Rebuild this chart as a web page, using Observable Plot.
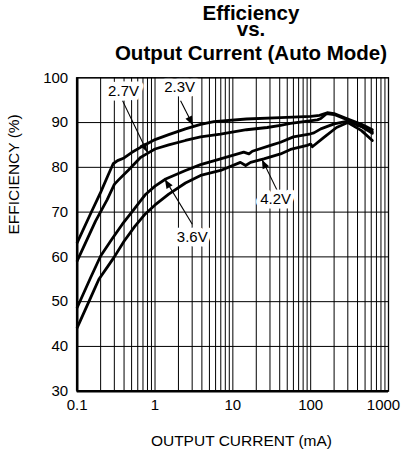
<!DOCTYPE html>
<html>
<head>
<meta charset="utf-8">
<script src="https://cdn.jsdelivr.net/npm/d3@7"></script>
<script src="https://cdn.jsdelivr.net/npm/@observablehq/plot@0.6"></script>
<style>
  html, body { margin: 0; padding: 0; background: #fff; }
  #wrap { width: 402px; height: 455px; position: relative; overflow: hidden; }
  #title { position: relative; width: 402px; height: 64px; font-family: "Liberation Sans", Arial, sans-serif; font-weight: bold; font-size: 20.5px; color: #000; }
  #title div { position: absolute; left: 0; width: 402px; padding-left: 100px; box-sizing: border-box; text-align: center; line-height: 14px; white-space: nowrap; }
</style>
</head>
<body>
<div id="wrap">
  <div id="title">
    <div style="top:6px">Efficiency</div>
    <div style="top:22px">vs.</div>
    <div style="top:46px">Output Current (Auto Mode)</div>
  </div>
  <div id="chart"></div>
</div>
<script>
// ---- data (output current in mA, efficiency in %) ----
const series = ["2.3V", "2.7V", "3.6V", "4.2V"];

const v23 = [[0.1,63.2],[0.15,69.8],[0.2,74.4],[0.25,78.3],[0.29,80.8],[0.33,81.5],[0.4,82.1],[0.5,83.3],[0.72,84.9],[1.0,86.2],[1.5,87.3],[2.46,88.6],[3.85,89.6],[5.7,90.2],[15,90.8],[41,91.1],[100,91.4],[130,91.6],[163,92.2],[200,92.0],[300,90.8],[450,89.6],[620,88.4]];
const v27 = [[0.1,59.1],[0.172,68.0],[0.243,72.8],[0.3,76.2],[0.34,77.2],[0.45,79.3],[0.65,82.2],[0.76,82.9],[1.0,84.1],[1.5,85.0],[2.46,86.0],[3.85,86.8],[6.95,87.4],[15,88.4],[27.6,88.9],[41,89.4],[55,89.8],[122,90.6],[135,90.9],[160,92.0],[200,91.8],[300,90.6],[450,89.2],[620,87.9]];
const v36 = [[0.1,48.7],[0.15,55.5],[0.2,60.2],[0.28,64.0],[0.38,67.3],[0.53,70.5],[0.65,72.5],[0.76,74.0],[1.0,75.8],[1.37,77.4],[2.46,79.3],[3.85,80.6],[6.95,81.9],[13.8,83.4],[16.1,83.0],[17.8,83.6],[30.5,84.9],[41,85.6],[60,86.8],[100,87.5],[110,87.7],[135,88.6],[200,89.7],[300,90.3],[450,89.1],[620,87.6]];
const v42 = [[0.1,44.2],[0.15,51.0],[0.19,55.0],[0.25,58.0],[0.3,60.0],[0.4,63.5],[0.55,66.8],[0.75,69.6],[1.0,71.6],[1.5,74.0],[2.46,76.5],[3.85,78.2],[6.95,79.3],[12.5,81.1],[14.6,80.4],[16.9,81.1],[25,81.9],[41,83.0],[55,84.0],[90,84.9],[100,85.2],[105,84.6],[148,86.7],[215,88.9],[300,90.0],[450,88.2],[620,86.0]];

const xTickValues = [0.1, 1, 10, 100, 1000];
const yTickValues = [30, 40, 50, 60, 70, 80, 90, 100];

// annotation labels and arrows (data coordinates)
const labelText = ["2.7V", "2.3V", "3.6V", "4.2V"];
const labelX = [0.394, 2.07, 3.01, 35.4];
const labelY = [96.9, 97.8, 64.5, 72.8];
const arrowFromX = [0.382, 2.13, 3.01, 37.2];
const arrowFromY = [94.9, 94.9, 67.3, 74.8];
const arrowToX = [0.8, 3.1, 1.36, 24];
const arrowToY = [83.3, 89.3, 77.2, 81.6];

// ---- build ----
const curves = [v23, v27, v36, v42].flatMap((arr, i) => arr.map(([x, y]) => ({series: series[i], x, y})));
const gridX = [];
for (let e = -1; e < 3; e++) for (let m = 1; m < 10; m++) gridX.push(+(m * 10 ** e).toPrecision(3));
gridX.push(1000);
const labels = labelText.map((t, i) => ({t, x: labelX[i], y: labelY[i]}));
const arrows = labelText.map((t, i) => ({x1: arrowFromX[i], y1: arrowFromY[i], x2: arrowToX[i], y2: arrowToY[i]}));

const W = 402, H = 391;
const font = "'Liberation Sans', Arial, sans-serif";
const chart = Plot.plot({
  width: W, height: H,
  marginLeft: 76.7, marginRight: 14, marginTop: 13.3, marginBottom: 64.3,
  style: {fontFamily: font, fontSize: "15px", color: "#000", background: "#fff"},
  x: {type: "log", domain: [0.1, 1000], label: null},
  y: {domain: [30, 100], label: null},
  marks: [
    Plot.ruleX(gridX, {stroke: "#000", strokeWidth: 1}),
    Plot.ruleY(yTickValues, {stroke: "#000", strokeWidth: 1}),
    Plot.axisX(xTickValues.slice(0, -1), {tickSize: 0, tickPadding: 8, tickFormat: d => String(d), label: null, fontSize: 15}),
    Plot.axisX(xTickValues.slice(-1), {tickSize: 0, tickPadding: 8, tickFormat: d => String(d), label: null, fontSize: 15, dx: -5}),
    Plot.axisY(yTickValues, {tickSize: 0, tickPadding: 9, label: null, fontSize: 15}),
    Plot.line(curves, {x: "x", y: "y", z: "series", stroke: "#000", strokeWidth: 2.8, strokeLinejoin: "round", curve: "linear"}),
    Plot.link(arrows, {x1: "x1", y1: "y1", x2: "x2", y2: "y2", stroke: "#000", strokeWidth: 1.1}),
    Plot.text(labels, {x: "x", y: "y", text: "t", fill: "#000", stroke: "#fff", strokeWidth: 9, fontSize: 15}),
    Plot.frame({stroke: "#000", strokeWidth: 1.3}),
    Plot.ruleY([30], {stroke: "#000", strokeWidth: 2.6}),
    Plot.ruleX([0.1], {stroke: "#000", strokeWidth: 2.6}),
    Plot.text(["OUTPUT CURRENT (mA)"], {frameAnchor: "bottom", text: d => d, dy: 55, dx: 8.6, fontSize: 15.5, fill: "#000"}),
    Plot.text(["EFFICIENCY (%)"], {frameAnchor: "left", text: d => d, rotate: -90, dx: -63, fontSize: 15.5, fill: "#000"})
  ]
});

// filled arrowheads, placed with the plot's own scales
const sx = chart.scale("x"), sy = chart.scale("y");
const headLen = 9, headHalf = 3.6;
const g = d3.select(chart).append("g");
for (const a of arrows) {
  const x1 = sx.apply(a.x1), y1 = sy.apply(a.y1), x2 = sx.apply(a.x2), y2 = sy.apply(a.y2);
  const dx = x2 - x1, dy = y2 - y1, L = Math.hypot(dx, dy), ux = dx / L, uy = dy / L;
  const bx = x2 - ux * headLen, by = y2 - uy * headLen;
  const p = [[x2, y2], [bx - uy * headHalf, by + ux * headHalf], [bx + uy * headHalf, by - ux * headHalf]];
  g.append("path").attr("d", "M" + p.map(q => q.join(",")).join("L") + "Z").attr("fill", "#000");
}
document.getElementById("chart").appendChild(chart);
</script>
</body>
</html>
